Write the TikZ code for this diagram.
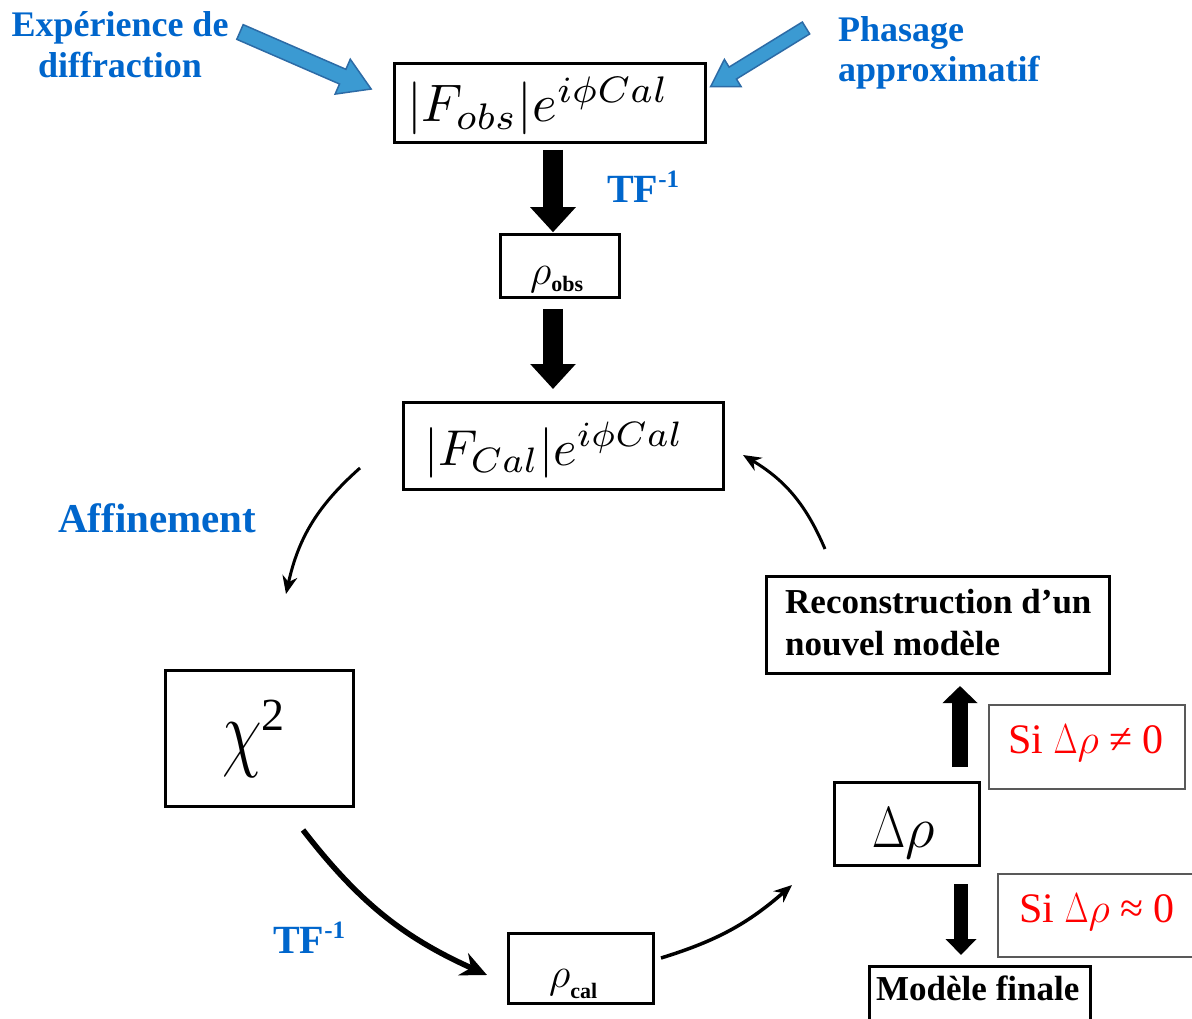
\RequirePackage{fix-cm}
\documentclass[tikz,border=0pt]{standalone}
\usepackage{fontspec}
\setmainfont{Liberation Serif}
\usetikzlibrary{arrows.meta,calc}
\definecolor{tblue}{HTML}{0066CC}
\definecolor{afill}{HTML}{3B9AD2}
\definecolor{aedge}{HTML}{2C6BA6}
\definecolor{tred}{HTML}{FF0000}
\newcommand{\myDelta}{\scalebox{0.74}[1]{$\Delta$}}
\begin{document}
\begin{tikzpicture}[x=1pt,y=-1pt,
  bx/.style={draw=black,line width=3pt,inner sep=0pt},
  rbx/.style={draw=black!65,line width=1.5pt,inner sep=0pt},
  lbl/.style={text=tblue,font=\fontsize{36}{40}\selectfont\bfseries,inner sep=0pt},
  btxt/.style={font=\fontsize{35}{40}\selectfont\bfseries,inner sep=0pt},
  rtxt/.style={text=tred,font=\fontsize{42}{46}\selectfont,inner sep=0pt},
  plain/.style={inner sep=0pt},
  fatarrow/.style={line width=20pt,-{Triangle[length=25pt,width=44pt]}},
  midarrow/.style={line width=16pt,-{Triangle[length=17pt,width=34pt]}},
  thinarrow/.style={line width=3pt,-{Stealth[length=18pt,width=15pt]}},
  boldarrow/.style={line width=5.5pt,-{Stealth[length=26pt,width=24pt]}},
  blockarrow/.style={fill=afill,draw=aedge,line width=1.5pt,line join=miter}
]
\fill[white] (0,0) rectangle (1192,1019);
\useasboundingbox (0,0) rectangle (1192,1019);

% ---------- boxes ----------
\node[bx,minimum width=311pt,minimum height=79pt] (b1) at (550,103) {};
\node[bx,line width=2.5pt,minimum width=119pt,minimum height=63pt] (b2) at (560,266) {};
\node[bx,minimum width=320pt,minimum height=87pt] (b3) at (563.5,446) {};
\node[bx,minimum width=188pt,minimum height=136pt] (chi) at (259.5,738.5) {};
\node[bx,minimum width=145pt,minimum height=70pt] (rc) at (581,968.5) {};
\node[bx,minimum width=145pt,minimum height=83pt] (dr) at (907,824) {};
\node[bx,minimum width=343pt,minimum height=97pt] (rec) at (938,625) {};
\node[bx,minimum width=221pt,minimum height=67pt] (mf) at (980,1000) {};
\node[rbx,minimum width=196pt,minimum height=84pt] (c1) at (1087,747) {};
\node[rbx,minimum width=201pt,minimum height=83pt] (c2) at (1098.5,915.5) {};

% ---------- box texts ----------
\node[plain,anchor=base west] (t1) at (407,122)
  {\resizebox{262pt}{!}{$|F_{obs}|e^{i\phi Cal}$}};
\node[plain,anchor=base west] (t3) at (424,465)
  {\resizebox{260pt}{!}{$|F_{Cal}|e^{i\phi Cal}$}};
\node[plain,anchor=base west] (t2) at (530,285)
  {\fontsize{42}{46}\selectfont$\rho$\raisebox{-6pt}{\fontsize{22}{24}\selectfont\bfseries obs}};
\node[plain,anchor=base west] (trc) at (549,987)
  {\fontsize{42}{46}\selectfont$\rho$\raisebox{-11pt}{\fontsize{22}{24}\selectfont\bfseries cal}};
\node[plain,anchor=base west] (tchi) at (222,760)
  {\fontsize{76}{80}\selectfont\scalebox{0.85}[1.15]{$\chi$}\raisebox{30pt}{\fontsize{46}{48}\selectfont 2}};
\node[plain,anchor=base west] (tdr) at (872,847)
  {\fontsize{58}{62}\selectfont\myDelta$\rho$};
\node[btxt,anchor=base west] (trec1) at (785,613) {Reconstruction d’un};
\node[btxt,anchor=base west] (trec2) at (785,655) {nouvel modèle};
\node[btxt,anchor=base west] (tmf) at (876,1000) {Modèle finale};
\node[rtxt,anchor=base west] (tc1) at (1008,753) {Si \myDelta$\rho$ ≠ 0};
\node[rtxt,anchor=base west] (tc2) at (1019,922) {Si \myDelta$\rho$ ≈ 0};

% ---------- blue labels ----------
\node[lbl,anchor=base] (exp1) at (120,37) {Expérience de};
\node[lbl,anchor=base] (exp2) at (120,78) {diffraction};
\node[lbl,anchor=base west] (ph1) at (838,42) {Phasage};
\node[lbl,anchor=base west] (ph2) at (838,82) {approximatif};
\node[lbl,font=\fontsize{41}{44}\selectfont\bfseries,anchor=base west] (aff) at (58,532) {Affinement};
\node[lbl,font=\fontsize{40}{44}\selectfont\bfseries,anchor=base west] (tf1) at (607,203)
  {TF\raisebox{15pt}{\fontsize{25}{27}\selectfont -1}};
\node[lbl,font=\fontsize{40}{44}\selectfont\bfseries,anchor=base west] (tf2) at (273,953)
  {TF\raisebox{15pt}{\fontsize{25}{27}\selectfont -1}};

% ---------- blue block arrows ----------
\begin{scope}[shift={(240,32)},rotate=-23.5]
  \path[blockarrow] (0,-8)--(112,-8)--(112,-19)--(143,0)--(112,19)--(112,8)--(0,8)--cycle;
\end{scope}
\begin{scope}[shift={(806,28)},rotate=211.6]
  \path[blockarrow] (0,-7)--(86,-7)--(86,-16)--(112,0)--(86,16)--(86,7)--(0,7)--cycle;
\end{scope}

% ---------- thick black arrows ----------
\draw[fatarrow] ($(b1.south)+(3,6)$) -- ($(b2.north)+(-7,-1)$);
\draw[fatarrow] ($(b2.south)+(-7,10)$) -- ($(b3.north)+(-10.5,-12)$);
\draw[midarrow] ($(dr.north)+(53,-14)$) -- ($(rec.south)+(22,11)$);
\draw[midarrow,line width=14pt,-{Triangle[length=16pt,width=30pt]}] ($(dr.south)+(54,17)$) -- ($(mf.north)+(-19,-10)$);

% ---------- curved cycle arrows ----------
\coordinate (a1s) at (360,468);
\coordinate (a1e) at (286,594);
\coordinate (a2s) at (303,830);
\coordinate (a2e) at (487,975);
\coordinate (a3s) at (661,958);
\coordinate (a3e) at (792,885);
\coordinate (a4s) at (825,549);
\coordinate (a4e) at (743,455);
\draw[thinarrow] (a1s) to[bend right=18] (a1e);
\draw[boldarrow] (a2s) to[bend right=14] (a2e);
\draw[thinarrow,line width=3.5pt] (a3s) to[bend right=12] (a3e);
\draw[thinarrow] (a4s) to[bend right=18] (a4e);
\end{tikzpicture}
\end{document}
